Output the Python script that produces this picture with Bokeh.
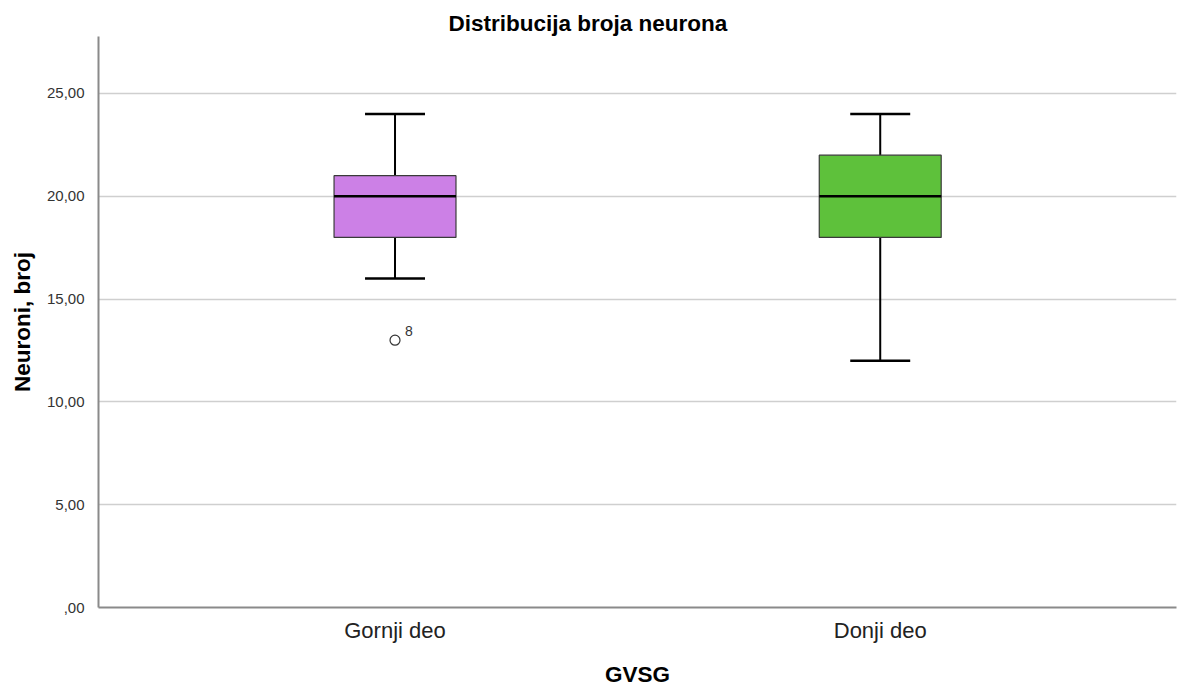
from bokeh.plotting import figure
from bokeh.models import FixedTicker, Range1d
from bokeh.embed import file_html
from bokeh.resources import INLINE
from bokeh.core.properties import value

# ---- data ----
groups = ["Gornji deo", "Donji deo"]
positions = [1, 2]
whisker_low = [16, 12]
q1 = [18, 18]
median = [20, 20]
q3 = [21, 22]
whisker_high = [24, 24]
box_colors = ["#CC80E6", "#5EC13B"]

outlier_pos = [1]
outlier_val = [13]
outlier_label = ["8"]

y_ticks = [0, 5, 10, 15, 20, 25]
y_tick_labels = [",00", "5,00", "10,00", "15,00", "20,00", "25,00"]

FONT = "Liberation Sans"

# frame: x 98..1176, y 36..607
p = figure(width=1177, height=689, output_backend="svg", toolbar_location=None,
           x_range=Range1d(0.3889, 2.6106), y_range=Range1d(0, 27.77),
           min_border_left=98, min_border_right=1, min_border_top=36, min_border_bottom=82)

p.title.text = "Distribucija broja neurona"
p.title.text_font = FONT
p.title.text_font_size = "22.5px"
p.title.text_font_style = "bold"
p.title.text_color = "#000000"
p.title.align = "left"
p.title.offset = 350
p.title.standoff = 2

p.outline_line_color = None
p.background_fill_color = "white"
p.border_fill_color = "white"

# grid
p.xgrid.grid_line_color = None
p.ygrid.ticker = FixedTicker(ticks=y_ticks[1:])
p.ygrid.grid_line_color = "#cfcfcf"
p.ygrid.grid_line_width = 1.6

# y axis
p.yaxis.ticker = FixedTicker(ticks=y_ticks)
p.yaxis.major_label_overrides = {t: l for t, l in zip(y_ticks, y_tick_labels)}
p.yaxis.axis_label = "Neuroni, broj"
p.yaxis.axis_label_text_font = FONT
p.yaxis.axis_label_text_font_size = "22.5px"
p.yaxis.axis_label_text_font_style = "bold"
p.yaxis.axis_label_text_color = "#000000"
p.yaxis.axis_label_standoff = 9
p.yaxis.major_label_text_font = FONT
p.yaxis.major_label_text_font_size = "15px"
p.yaxis.major_label_text_color = "#333333"
p.yaxis.major_label_standoff = 8
p.yaxis.major_tick_line_color = None
p.yaxis.minor_tick_line_color = None
p.yaxis.axis_line_color = "#8a8a8a"
p.yaxis.axis_line_width = 2

# x axis
p.xaxis.ticker = FixedTicker(ticks=positions)
p.xaxis.major_label_overrides = {pos: g for pos, g in zip(positions, groups)}
p.xaxis.axis_label = "GVSG"
p.xaxis.axis_label_text_font = FONT
p.xaxis.axis_label_text_font_size = "22.5px"
p.xaxis.axis_label_text_font_style = "bold"
p.xaxis.axis_label_text_color = "#000000"
p.xaxis.axis_label_standoff = 16
p.xaxis.major_label_text_font = FONT
p.xaxis.major_label_text_font_size = "22px"
p.xaxis.major_label_text_color = "#222222"
p.xaxis.major_label_standoff = 4
p.xaxis.major_tick_line_color = None
p.xaxis.minor_tick_line_color = None
p.xaxis.axis_line_color = "#8a8a8a"
p.xaxis.axis_line_width = 2

box_w = 0.2513
cap_w = 0.1236

# whiskers
p.segment(x0=positions, y0=q3, x1=positions, y1=whisker_high, line_color="black", line_width=2)
p.segment(x0=positions, y0=q1, x1=positions, y1=whisker_low, line_color="black", line_width=2)
# caps
p.segment(x0=[x - cap_w / 2 for x in positions], y0=whisker_high,
          x1=[x + cap_w / 2 for x in positions], y1=whisker_high, line_color="black", line_width=2.5)
p.segment(x0=[x - cap_w / 2 for x in positions], y0=whisker_low,
          x1=[x + cap_w / 2 for x in positions], y1=whisker_low, line_color="black", line_width=2.5)
# boxes
p.vbar(x=positions, width=box_w, bottom=q1, top=q3, fill_color=box_colors,
       line_color="#3a3a3a", line_width=1.2)
# medians
p.segment(x0=[x - box_w / 2 for x in positions], y0=median,
          x1=[x + box_w / 2 for x in positions], y1=median, line_color="black", line_width=2.5)

# outliers
p.scatter(x=outlier_pos, y=outlier_val, marker="circle", size=10, fill_color="white",
          line_color="#333333", line_width=1.2)
p.text(x=outlier_pos, y=outlier_val, text=outlier_label, x_offset=10, y_offset=-9,
       text_font=value(FONT), text_font_size="14px", text_color="#333333",
       text_baseline="alphabetic", text_align="left")

open("out.html", "w").write(file_html(p, INLINE))
